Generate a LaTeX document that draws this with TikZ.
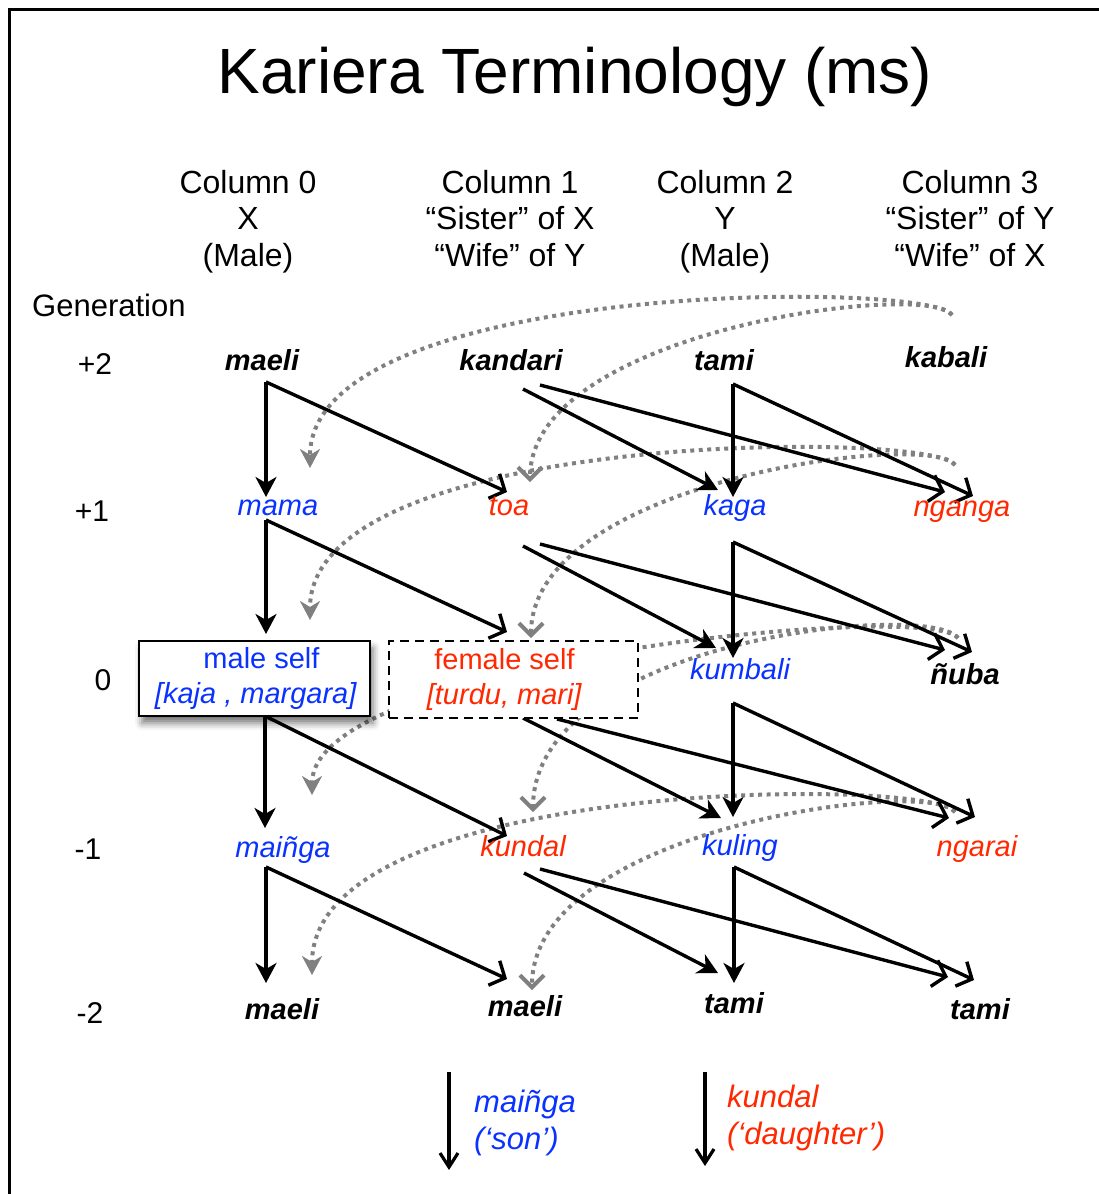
\documentclass[tikz,border=0pt]{standalone}
\usepackage{fontspec}
\setmainfont{Liberation Sans}
\usetikzlibrary{arrows.meta, positioning, shadows.blur}
\definecolor{kinblue}{RGB}{10,50,255}
\definecolor{kinred}{RGB}{255,40,0}
\definecolor{linkgray}{RGB}{128,128,128}

\begin{document}
\begin{tikzpicture}[x=1pt, y=-1pt,
        header/.style={anchor=north, inner sep=0pt, align=center, font=\fontsize{32}{36.5}\selectfont},
        gen/.style={anchor=base, inner sep=0pt, font=\fontsize{30}{36}\selectfont},
        term/.style={anchor=base, inner sep=0pt, font=\fontsize{29}{34}\selectfont\itshape},
        refterm/.style={term, font=\fontsize{29}{34}\selectfont\bfseries\itshape},
        maleterm/.style={term, text=kinblue},
        femaleterm/.style={term, text=kinred},
        selfbox/.style={draw, fill=white, inner sep=0pt, align=center, font=\fontsize{29}{35}\selectfont},
        key/.style={anchor=west, inner sep=0pt, align=left, font=\fontsize{31}{37}\selectfont\itshape},
        tomale/.style={line width=3.4pt, -{Stealth[length=20pt, width=21pt, inset=6pt]}},
        tofemale/.style={line width=3.4pt, -{Straight Barb[length=12pt, width=27pt]}},
        cross/.style={line width=4pt, draw=linkgray, dash pattern=on 4pt off 4.5pt},
        crossmale/.style={cross, -{Stealth[length=19pt, width=20pt, inset=6pt]}},
        crossfemale/.style={cross, -{Straight Barb[length=12pt, width=24pt]}},
        keyarrow/.style={line width=3.2pt, -{Straight Barb[length=14pt, width=18pt]}}
    ]
    \useasboundingbox (0,0) rectangle (1099,1194);
    \draw[line width=3.5pt] (9.5,1210) -- (9.5,9.5) -- (1110,9.5);

    \node[anchor=base, inner sep=0pt, font=\fontsize{64}{70}\selectfont] (title) at (575,93) {Kariera Terminology (ms)};

    \node[header] (col0) at (248,170) {Column 0\\X\\(Male)};
    \node[header] (col1) at (510,170) {Column 1\\“Sister” of X\\“Wife” of Y};
    \node[header] (col2) at (725,170) {Column 2\\Y\\(Male)};
    \node[header] (col3) at (970,170) {Column 3\\“Sister” of Y\\“Wife” of X};

    \node[anchor=base west, inner sep=0pt, font=\fontsize{31}{36}\selectfont] (generation) at (32,316) {Generation};
    \node[gen] (gp2) at (95,374) {+2};
    \node[gen] (gp1) at (92,521) {+1};
    \node[gen] (g0) at (103,690) {0};
    \node[gen] (gm1) at (88,859) {-1};
    \node[gen] (gm2) at (90,1023) {-2};

    % cross links from column 3
    \coordinate (kabali-x) at (952,315);
    \coordinate (mama-x) at (310,468);
    \coordinate (toa-x) at (530,482);
    \draw[crossmale] (kabali-x) .. controls +(-22,-35) and +(0,-188) .. (mama-x);
    \draw[crossfemale] (kabali-x) .. controls +(-22,-35) and +(0,-152) .. (toa-x);

    \coordinate (nganga-x) at (955,465);
    \coordinate (mself-x) at (310,620);
    \coordinate (fself-x) at (531,638);
    \draw[crossmale] (nganga-x) .. controls +(-22,-35) and +(0,-190) .. (mself-x);
    \draw[crossfemale] (nganga-x) .. controls +(-22,-35) and +(0,-158) .. (fself-x);

    \coordinate (nuba-x) at (958,638);
    \coordinate (mainga-x) at (312,795);
    \coordinate (kundal-x) at (533,812);
    \draw[crossmale] (nuba-x) .. controls +(-28,-38) and +(0,-135) .. (mainga-x);
    \draw[crossfemale] (nuba-x) .. controls +(-28,-38) and +(0,-172) .. (kundal-x);

    \coordinate (ngarai-x) at (955,812);
    \coordinate (maeli-x) at (312,975);
    \coordinate (maelib-x) at (532,990);
    \draw[crossmale] (ngarai-x) .. controls +(-22,-35) and +(0,-198) .. (maeli-x);
    \draw[crossfemale] (ngarai-x) .. controls +(-22,-35) and +(0,-163) .. (maelib-x);

    % generation +2 to +1
    \coordinate (maelit-o) at (266,382);
    \coordinate (kandari-o) at (523,389);
    \coordinate (kandari-p) at (540,385);
    \coordinate (tamit-o) at (733,384);
    \coordinate (mama-i) at (266,497);
    \coordinate (toa-i) at (507,492);
    \coordinate (kaga-i) at (718,490);
    \coordinate (kaga-j) at (733,497);
    \coordinate (nganga-i) at (945,492);
    \coordinate (nganga-j) at (973,496);
    \draw[tomale] (maelit-o) -- (mama-i);
    \draw[tofemale] (maelit-o) -- (toa-i);
    \draw[tomale] (kandari-o) -- (kaga-i);
    \draw[tofemale] (kandari-p) -- (nganga-i);
    \draw[tomale] (tamit-o) -- (kaga-j);
    \draw[tofemale] (tamit-o) -- (nganga-j);

    % generation +1 to 0
    \coordinate (mama-o) at (266,520);
    \coordinate (toa-o) at (523,546);
    \coordinate (toa-p) at (540,544);
    \coordinate (kaga-o) at (733,542);
    \coordinate (mself-i) at (266,634);
    \coordinate (fself-i) at (507,632);
    \coordinate (kumbali-i) at (716,648);
    \coordinate (kumbali-j) at (733,658);
    \coordinate (nuba-i) at (945,650);
    \coordinate (nuba-j) at (972,652);
    \draw[tomale] (mama-o) -- (mself-i);
    \draw[tofemale] (mama-o) -- (fself-i);
    \draw[tomale] (toa-o) -- (kumbali-i);
    \draw[tofemale] (toa-p) -- (nuba-i);
    \draw[tomale] (kaga-o) -- (kumbali-j);
    \draw[tofemale] (kaga-o) -- (nuba-j);

    % generation 0 to -1
    \coordinate (mself-o) at (265,716);
    \coordinate (fself-o) at (523,718);
    \coordinate (fself-p) at (557,719);
    \coordinate (kumbali-o) at (733,703);
    \coordinate (mainga-i) at (265,828);
    \coordinate (kundal-i) at (507,836);
    \coordinate (kuling-i) at (721,818);
    \coordinate (kuling-j) at (733,817);
    \coordinate (ngarai-i) at (949,818);
    \coordinate (ngarai-j) at (975,817);
    \draw[tomale] (mself-o) -- (mainga-i);
    \draw[tofemale] (mself-o) -- (kundal-i);
    \draw[tomale] (fself-o) -- (kuling-i);
    \draw[tofemale] (fself-p) -- (ngarai-i);
    \draw[tomale] (kumbali-o) -- (kuling-j);
    \draw[tofemale] (kumbali-o) -- (ngarai-j);

    % generation -1 to -2
    \coordinate (mainga-o) at (266,867);
    \coordinate (kundal-o) at (524,873);
    \coordinate (kundal-p) at (540,869);
    \coordinate (kuling-o) at (734,867);
    \coordinate (maeli-i) at (266,983);
    \coordinate (maelib-i) at (507,979);
    \coordinate (tami-i) at (718,973);
    \coordinate (tami-j) at (734,983);
    \coordinate (tamib-i) at (948,977);
    \coordinate (tamib-j) at (974,980);
    \draw[tomale] (mainga-o) -- (maeli-i);
    \draw[tofemale] (mainga-o) -- (maelib-i);
    \draw[tomale] (kundal-o) -- (tami-i);
    \draw[tofemale] (kundal-p) -- (tamib-i);
    \draw[tomale] (kuling-o) -- (tami-j);
    \draw[tofemale] (kuling-o) -- (tamib-j);

    % terms
    \node[refterm] (maelit) at (262,370) {maeli};
    \node[refterm] (kandari) at (511,370) {kandari};
    \node[refterm] (tamit) at (724,370) {tami};
    \node[refterm] (kabali) at (946,367) {kabali};

    \node[maleterm] (mama) at (278,515) {mama};
    \node[femaleterm] (toa) at (509,515) {toa};
    \node[maleterm] (kaga) at (735,515) {kaga};
    \node[femaleterm] (nganga) at (962,516) {nganga};

    \node[selfbox, line width=2.8pt, text=kinblue, minimum width=231pt, minimum height=75pt,
        blur shadow={shadow xshift=3pt, shadow yshift=-7pt, shadow blur radius=7pt, shadow opacity=55}]
        (mself) at (254.5,678.5) {\hspace*{14pt}male self\\\hspace*{3pt}\textit{[kaja , margara]}};
    \node[selfbox, line width=2.2pt, dash pattern=on 9pt off 6pt, text=kinred, minimum width=249pt, minimum height=77pt]
        (fself) at (513.5,679.5) {female self\hspace*{18pt}\\\textit{[turdu, mari]}\hspace*{18pt}};
    \node[maleterm] (kumbali) at (740,679) {kumbali};
    \node[refterm] (nuba) at (965,684) {ñuba};

    \node[maleterm] (mainga) at (283,857) {maiñga};
    \node[femaleterm] (kundal) at (523,856) {kundal};
    \node[maleterm] (kuling) at (740,855) {kuling};
    \node[femaleterm] (ngarai) at (977,856) {ngarai};

    \node[refterm] (maeli) at (282,1019) {maeli};
    \node[refterm] (maelib) at (525,1016) {maeli};
    \node[refterm] (tami) at (734,1013) {tami};
    \node[refterm] (tamib) at (980,1019) {tami};

    % key
    \coordinate (son-a) at (449,1072);
    \coordinate (son-b) at (449,1170);
    \coordinate (dau-a) at (705,1072);
    \coordinate (dau-b) at (705,1166);
    \draw[keyarrow] (son-a) -- (son-b);
    \draw[keyarrow] (dau-a) -- (dau-b);
    \node[key, text=kinblue] (sonkey) at (474,1123) {maiñga\\(‘son’)};
    \node[key, text=kinred] (daukey) at (727,1118) {kundal\\(‘daughter’)};
\end{tikzpicture}
\end{document}
